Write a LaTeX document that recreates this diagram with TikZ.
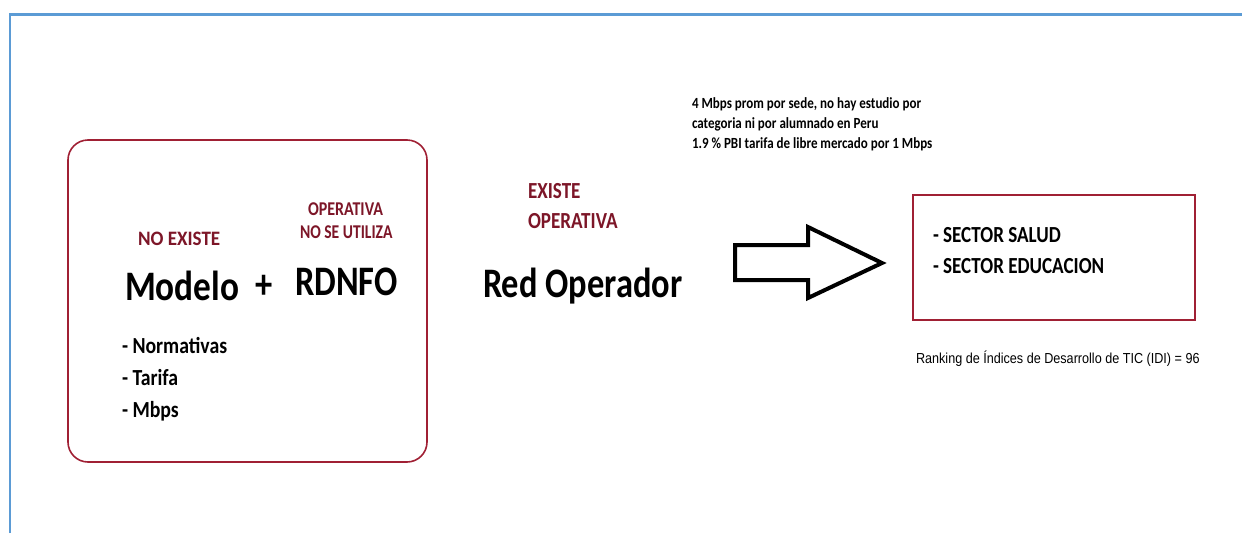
\documentclass[tikz,border=0pt]{standalone}
\usepackage{fontspec}
\setmainfont{Carlito}
\newfontfamily\arialf{Liberation Sans}
\definecolor{frameblue}{RGB}{91,155,213}
\definecolor{boxred}{RGB}{160,32,52}
\definecolor{txtred}{RGB}{125,22,40}
\newcommand\sqz[2]{\scalebox{#1}[1]{#2}}
\tikzset{
  lbl/.style={anchor=base west, inner sep=0pt, outer sep=0pt},
  big/.style={lbl, font=\bfseries\fontsize{42}{44}\selectfont},
  redlbl/.style={lbl, text=txtred, font=\bfseries\fontsize{19.5}{22}\selectfont},
  item/.style={lbl, font=\bfseries\fontsize{23}{26}\selectfont},
  note/.style={lbl, font=\bfseries\fontsize{15.5}{18}\selectfont},
}
\begin{document}
\begin{tikzpicture}[x=1pt,y=-1pt]
\useasboundingbox (0,0) rectangle (1242,533);
\fill[white] (0,0) rectangle (1242,533);
% frame
\draw[frameblue, line width=2.2pt] (10,533) -- (10,14.5) -- (1242,14.5);
% left rounded box
\draw[boxred, line width=1.6pt, rounded corners=20pt] (68,140) rectangle (427,462);
\node[redlbl, font=\bfseries\fontsize{20.5}{22}\selectfont] (noex) at (138,245) {\sqz{0.93}{NO EXISTE}};
\node[redlbl] (oper1) at (308,215) {\sqz{0.82}{OPERATIVA}};
\node[redlbl] (nose) at (300,238) {\sqz{0.8}{NO SE UTILIZA}};
\node[big] (modelo) at (125,300) {\sqz{0.84}{Modelo}};
\node[big] (plus) at (255,298) {\sqz{0.82}{+}};
\node[big] (rdnfo) at (295,295) {\sqz{0.82}{RDNFO}};
\node[item] (n1) at (122,353) {\sqz{0.86}{- Normativas}};
\node[item] (n2) at (122,385) {\sqz{0.86}{- Tarifa}};
\node[item] (n3) at (122,417) {\sqz{0.86}{- Mbps}};
% middle
\node[redlbl, font=\bfseries\fontsize{23}{26}\selectfont] (exist) at (528,198) {\sqz{0.83}{EXISTE}};
\node[redlbl, font=\bfseries\fontsize{23}{26}\selectfont] (oper2) at (528,228) {\sqz{0.83}{OPERATIVA}};
\node[big] (red) at (483,297) {\sqz{0.82}{Red Operador}};
% notes
\node[note] (t1) at (692,108) {\sqz{0.84}{4 Mbps prom por sede, no hay estudio por}};
\node[note] (t2) at (692,128) {\sqz{0.84}{categoria ni por alumnado en Peru}};
\node[note] (t3) at (692,148) {\sqz{0.84}{1.9 \% PBI tarifa de libre mercado por 1 Mbps}};
% block arrow
\draw[black, line width=4pt, miter limit=10] (735,245) -- (808,245) -- (808,227) -- (882,263) -- (808,298) -- (808,280) -- (735,280) -- cycle;
% right box
\draw[boxred, line width=1.6pt] (913,195) rectangle (1195,320);
\node[item] (s1) at (933,242) {\sqz{0.83}{- SECTOR SALUD}};
\node[item] (s2) at (933,273) {\sqz{0.83}{- SECTOR EDUCACION}};
\node[lbl, font=\arialf\fontsize{14.5}{16}\selectfont] (rank) at (916,363) {\sqz{0.87}{Ranking de Índices de Desarrollo de TIC (IDI) = 96}};
\end{tikzpicture}
\end{document}
